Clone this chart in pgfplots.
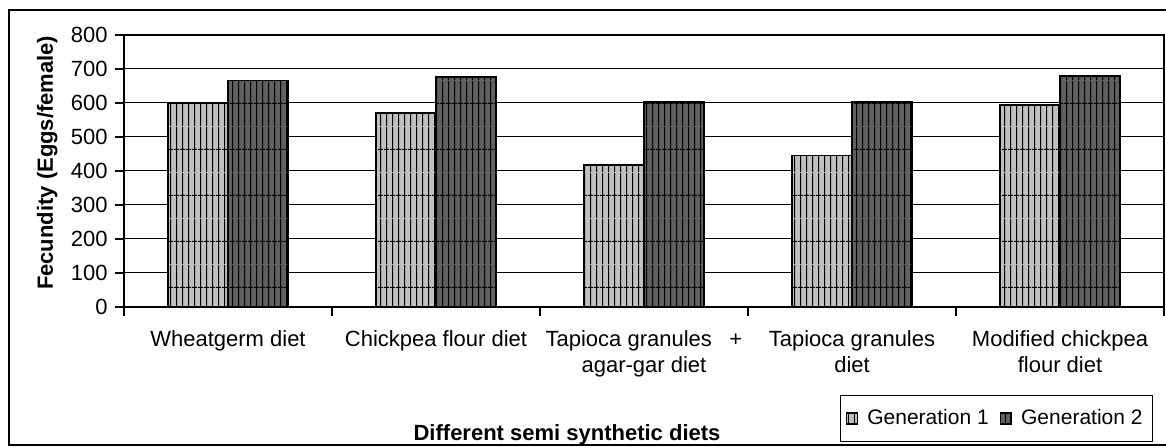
\documentclass[border=0pt]{standalone}
\usepackage{pgfplots}
\pgfplotsset{compat=1.18}
\usepackage{fontspec}
\setmainfont{Liberation Sans}
\usetikzlibrary{patterns.meta}
\definecolor{genone}{HTML}{C0C0C0}
\definecolor{gentwo}{HTML}{606060}
\pgfdeclarepattern{
  name=excelgrid,
  bottom left={\pgfpoint{0pt}{0pt}},
  top right={\pgfpoint{2.8pt}{23pt}},
  tile size={\pgfpoint{2.8pt}{23pt}},
  code={
    \pgfsetlinewidth{0.45pt}
    \pgfpathmoveto{\pgfpoint{1.4pt}{0pt}}
    \pgfpathlineto{\pgfpoint{1.4pt}{23pt}}
    \pgfpathmoveto{\pgfpoint{0pt}{11.5pt}}
    \pgfpathlineto{\pgfpoint{2.8pt}{11.5pt}}
    \pgfusepath{stroke}
  }
}
\begin{document}
\begin{tikzpicture}
\begin{axis}[
  at={(0,0)}, anchor=south west,
  scale only axis, width=520pt, height=136pt,
  ymin=0, ymax=800, ytick={0,100,...,800},
  xmin=-0.5, xmax=4.5,
  xtick={-0.5,0.5,...,4.5},
  x tick label as interval,
  xticklabels={Wheatgerm diet, Chickpea flour diet, {Tapioca granules\hspace{0.8em}+\\agar-gar diet}, {Tapioca granules\\diet}, {Modified chickpea\\flour diet}},
  ybar=0pt, bar width=30pt,
  ymajorgrids, major grid style={black, line width=0.5pt},
  axis line style={black, line width=0.8pt},
  tick style={black, line width=0.6pt},
  tick align=outside, major tick length=4.5pt,
  tick pos=left,
  tick label style={font=\fontsize{11}{13}\selectfont},
  /pgf/number format/assume math mode=true,
  xticklabel style={align=center, anchor=north, inner sep=0pt, yshift=-7pt},
  yticklabel style={anchor=east, inner sep=0pt, xshift=-3.5pt},
  xlabel={Different semi synthetic diets},
  xlabel style={font=\bfseries\fontsize{11}{13}\selectfont, at={(axis description cs:0.426,-0.489)}, anchor=base},
  ylabel={Fecundity (Eggs/female)},
  ylabel style={font=\bfseries\fontsize{11}{13}\selectfont, at={(axis description cs:-0.0683,0.53)}, anchor=base},
  legend columns=2,
  legend style={at={(rel axis cs:0.9894,-0.3235)}, anchor=north east, draw=black,
    font=\fontsize{10.5}{12}\selectfont, inner xsep=3pt, inner ysep=5pt,
    /tikz/every odd column/.append style={column sep=2.5pt},
    /tikz/every even column/.append style={column sep=3.5pt}},
  legend image code/.code={\draw[#1] (0pt,-2.75pt) rectangle (5.5pt,2.75pt);},
]
\addplot[draw=black, line width=0.7pt, fill=genone, postaction={pattern=excelgrid, pattern color=black}]
  coordinates {(0,599) (1,570) (2,418) (3,445) (4,594)};
\addlegendentry{Generation 1}
\addplot[draw=black, line width=0.7pt, fill=gentwo, postaction={pattern=excelgrid, pattern color=black}]
  coordinates {(0,666) (1,676) (2,603) (3,603) (4,679)};
\addlegendentry{Generation 2}
\end{axis}
\draw[line width=1pt] (-57.5pt,-69pt) rectangle (524pt,148.5pt);
\pgfresetboundingbox
\path[use as bounding box] (-62pt,-70.5pt) rectangle (521pt,153.5pt);
\end{tikzpicture}
\end{document}
